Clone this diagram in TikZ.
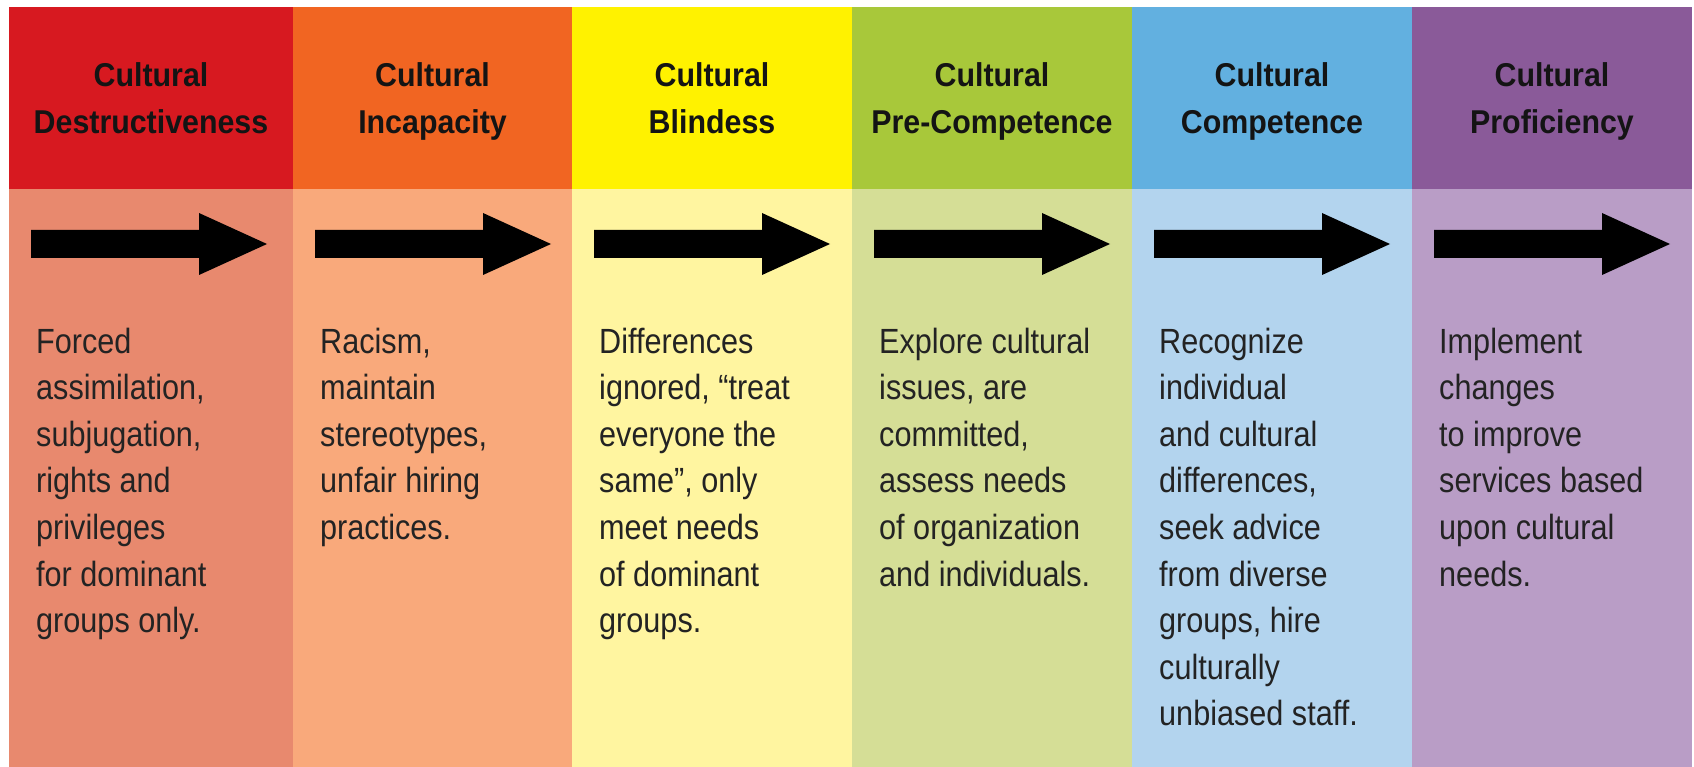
\documentclass[tikz,border=0pt]{standalone}
\usepackage{fontspec}
\newfontfamily\headfont{Liberation Sans}[FakeStretch=0.92]
\newfontfamily\bodyfont{Liberation Sans}[FakeStretch=0.875]
\definecolor{hA}{RGB}{215,25,32}
\definecolor{bA}{RGB}{232,137,110}
\definecolor{hB}{RGB}{241,101,34}
\definecolor{bB}{RGB}{249,169,123}
\definecolor{hC}{RGB}{255,242,0}
\definecolor{bC}{RGB}{255,245,160}
\definecolor{hD}{RGB}{168,200,58}
\definecolor{bD}{RGB}{213,222,150}
\definecolor{hE}{RGB}{98,176,224}
\definecolor{bE}{RGB}{179,212,238}
\definecolor{hF}{RGB}{138,90,153}
\definecolor{bF}{RGB}{185,157,198}
\definecolor{headink}{RGB}{20,20,20}
\definecolor{bodyink}{RGB}{35,35,35}
\tikzset{
  headtext/.style={anchor=base, inner sep=0pt, text=headink,
    font={\headfont\bfseries\fontsize{33}{47}\selectfont}},
  bodytext/.style={anchor=base west, inner sep=0pt, text=bodyink,
    font={\bodyfont\fontsize{35}{46.6}\selectfont}},
  bigarrow/.style={fill=black}
}
\begin{document}
\begin{tikzpicture}[x=1pt,y=-1pt]
\fill[white] (0,0) rectangle (1694,767);
\useasboundingbox (0,0) rectangle (1694,767);
% column bands
\fill[hA] (9,7) rectangle (293,189);   \fill[bA] (9,189) rectangle (293,767);
\fill[hB] (293,7) rectangle (572,189); \fill[bB] (293,189) rectangle (572,767);
\fill[hC] (572,7) rectangle (852,189); \fill[bC] (572,189) rectangle (852,767);
\fill[hD] (852,7) rectangle (1132,189); \fill[bD] (852,189) rectangle (1132,767);
\fill[hE] (1132,7) rectangle (1412,189); \fill[bE] (1132,189) rectangle (1412,767);
\fill[hF] (1412,7) rectangle (1692,189); \fill[bF] (1412,189) rectangle (1692,767);
% arrows
\foreach \x in {9,293,572,852,1132,1412}{
  \fill[bigarrow] ({\x+22},230) -- ({\x+190},230) -- ({\x+190},213) -- ({\x+258},244)
    -- ({\x+190},275) -- ({\x+190},258) -- ({\x+22},258) -- cycle;
}
% headers
\node[headtext] (h1) at (151,87) {\begin{tabular}[t]{@{}c@{}}Cultural\\Destructiveness\end{tabular}};
\node[headtext] (h2) at (432.5,87) {\begin{tabular}[t]{@{}c@{}}Cultural\\Incapacity\end{tabular}};
\node[headtext] (h3) at (712,87) {\begin{tabular}[t]{@{}c@{}}Cultural\\Blindess\end{tabular}};
\node[headtext] (h4) at (992,87) {\begin{tabular}[t]{@{}c@{}}Cultural\\Pre-Competence\end{tabular}};
\node[headtext] (h5) at (1272,87) {\begin{tabular}[t]{@{}c@{}}Cultural\\Competence\end{tabular}};
\node[headtext] (h6) at (1552,87) {\begin{tabular}[t]{@{}c@{}}Cultural\\Proficiency\end{tabular}};
% body texts
\node[bodytext] (t1) at (36,353) {\begin{tabular}[t]{@{}l@{}}Forced\\assimilation,\\subjugation,\\rights and\\privileges\\for dominant\\groups only.\end{tabular}};
\node[bodytext] (t2) at (320,353) {\begin{tabular}[t]{@{}l@{}}Racism,\\maintain\\stereotypes,\\unfair hiring\\practices.\end{tabular}};
\node[bodytext] (t3) at (599,353) {\begin{tabular}[t]{@{}l@{}}Differences\\ignored, “treat\\everyone the\\same”, only\\meet needs\\of dominant\\groups.\end{tabular}};
\node[bodytext] (t4) at (879,353) {\begin{tabular}[t]{@{}l@{}}Explore cultural\\issues, are\\committed,\\assess needs\\of organization\\and individuals.\end{tabular}};
\node[bodytext] (t5) at (1159,353) {\begin{tabular}[t]{@{}l@{}}Recognize\\individual\\and cultural\\differences,\\seek advice\\from diverse\\groups, hire\\culturally\\unbiased staff.\end{tabular}};
\node[bodytext] (t6) at (1439,353) {\begin{tabular}[t]{@{}l@{}}Implement\\changes\\to improve\\services based\\upon cultural\\needs.\end{tabular}};
\end{tikzpicture}
\end{document}
